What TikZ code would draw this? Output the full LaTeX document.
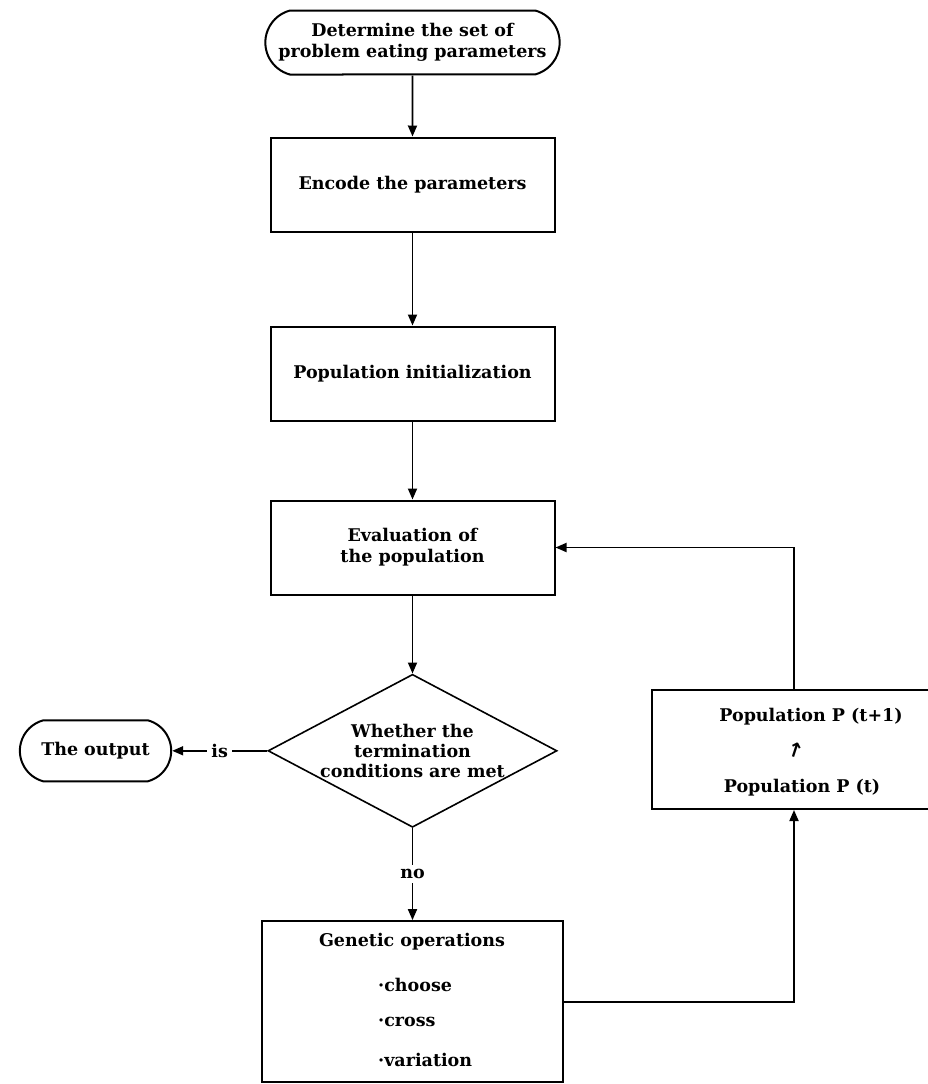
\documentclass[tikz,border=0pt]{standalone}
\usepackage{fontspec}
\setmainfont{DejaVu Serif}
\newfontfamily\arrowfont{DejaVu Sans}
\usetikzlibrary{positioning,arrows,arrows.meta,shapes}
\tikzset{
  box/.style={draw=black, line width=2pt, rectangle, minimum width=284pt, minimum height=94pt,
    align=center, font=\fontsize{17.5}{21}\selectfont\bfseries},
  term/.style={draw=black, line width=2pt, rounded rectangle, rounded rectangle arc length=150,
    minimum height=64pt, align=center, font=\fontsize{17.5}{21}\selectfont\bfseries},
  decide/.style={draw=black, line width=1.6pt, diamond, shape aspect=1.9, inner sep=0pt,
    minimum width=289pt, minimum height=153pt, align=center,
    font=\fontsize{17.5}{20}\selectfont\bfseries},
  txt/.style={inner sep=1pt, font=\fontsize{17.5}{21}\selectfont\bfseries},
  flow/.style={line width=1.8pt, draw=black, -{Triangle[length=11pt,width=9pt]}},
  tag/.style={fill=white, inner sep=4pt, font=\fontsize{17.5}{21}\selectfont\bfseries}
}
\begin{document}
\begin{tikzpicture}[x=1pt, y=-1pt]
    \useasboundingbox (0,0) rectangle (927,1084);

    \node[term, minimum width=301pt] (start) at (412.5,42.5) {Determine the set of\\problem eating parameters};
    \node[box, below=61pt of start] (encode) {Encode the parameters};
    \node[box, below=93pt of encode] (init) {Population initialization};
    \node[box, below=78pt of init] (eval) {Evaluation of\\the population};
    \node[decide, below=78pt of eval] (test) {Whether the\\termination\\conditions are met};
    \node[term, minimum width=158pt, minimum height=61pt, left=95pt of test] (out) {The output};
    \node[box, minimum width=301pt, minimum height=161pt, below=92pt of test] (gen) {};
    \node[box, minimum height=119pt] (pop) at (794,749.5) {};

    % texts inside the two last boxes
    \node[txt] (genhead) at (412,942) {Genetic operations};
    \node[txt, anchor=west] (opchoose) at (377,985) {·choose};
    \node[txt, anchor=west] (opcross) at (377,1022) {·cross};
    \node[txt, anchor=west] (opvar) at (377,1060) {·variation};
    \node[txt] (pnext) at (811,717) {Population P (t+1)};
    \node[txt, rotate=-18, font=\fontsize{20}{20}\selectfont\arrowfont\bfseries] (parr) at (796,750) {↑};
    \node[txt] (pnow) at (802,788) {Population P (t)};

    \draw[flow] (start) -- (encode);
    \draw[flow] (encode) -- (init);
    \draw[flow] (init) -- (eval);
    \draw[flow] (eval) -- (test);
    \draw[flow] (test.west) -- node[tag] {is} (out.east);
    \draw[flow] (test.south) -- node[tag] {no} (gen.north);
    \draw[flow] (gen.east) -| (pop.south);
    \draw[flow] (pop.north) |- (eval.east);
\end{tikzpicture}
\end{document}
